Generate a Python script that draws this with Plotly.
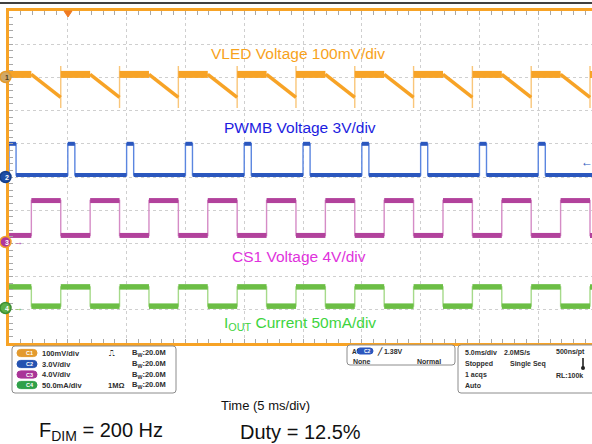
import plotly.graph_objects as go

W, H = 592, 444

# ---------------- data (time in ms, amplitude in scope divisions) ----------------
x_range_ms = [0.0, 49.57]
y_range_div = [0.0, 10.0]

pwmb_rise_ms = [0.0, 5.0, 10.0, 15.0, 20.0, 25.0, 30.0, 35.0, 40.0, 45.0]
pwmb_fall_ms = [0.6, 5.6, 10.6, 15.6, 20.6, 25.6, 30.6, 35.6, 40.6, 45.6]
pwmb_low_div, pwmb_high_div = 5.06, 6.0

cs1_rise_ms = [1.9, 6.9, 11.9, 16.9, 21.9, 26.9, 31.9, 36.9, 41.9, 46.9]
cs1_fall_ms = [4.4, 9.4, 14.4, 19.4, 24.4, 29.4, 34.4, 39.4, 44.4, 49.4]
cs1_low_div, cs1_high_div = 3.24, 4.29

iout_fall_ms = [1.9, 6.9, 11.9, 16.9, 21.9, 26.9, 31.9, 36.9, 41.9, 46.9]
iout_rise_ms = [4.4, 9.4, 14.4, 19.4, 24.4, 29.4, 34.4, 39.4, 44.4, 49.4]
iout_low_div, iout_high_div = 1.11, 1.69

vled_ramp_start_ms = [1.9, 6.9, 11.9, 16.9, 21.9, 26.9, 31.9, 36.9, 41.9, 46.9]
vled_jump_ms = [4.4, 9.4, 14.4, 19.4, 24.4, 29.4, 34.4, 39.4, 44.4, 49.4]
vled_flat_div = 8.09
vled_ramp_end_div = 7.40
vled_spike_low_div = 7.08
vled_spike_high_div = 8.34

# ---------------- colours ----------------
ORANGE = "#F7A326"
BLUE = "#2B57BE"
MAGENTA = "#B2429C"
GREEN = "#6CBE45"


def step_wave(t0, t1, ups, downs, lo, hi, start_high):
    events = sorted([(t, 1) for t in ups] + [(t, 0) for t in downs])
    level = hi if start_high else lo
    xs, ys = [t0], [level]
    flat_x, flat_y = [], []
    seg_start = t0
    for t, up in events:
        new = hi if up else lo
        flat_x += [seg_start, t, None]
        flat_y += [level, level, None]
        xs += [t, t]
        ys += [level, new]
        level = new
        seg_start = t
    flat_x += [seg_start, t1]
    flat_y += [level, level]
    xs.append(t1)
    ys.append(level)
    return xs, ys, flat_x, flat_y


fig = go.Figure()

# PWMB (blue)
bx, by, bfx, bfy = step_wave(x_range_ms[0], x_range_ms[1], pwmb_rise_ms, pwmb_fall_ms,
                             pwmb_low_div, pwmb_high_div, False)
fig.add_trace(go.Scatter(x=bx, y=by, mode="lines", line=dict(color="#5B86E0", width=1.4),
                         hoverinfo="skip", showlegend=False))
fig.add_trace(go.Scatter(x=bfx, y=bfy, mode="lines", line=dict(color=BLUE, width=4),
                         hoverinfo="skip", showlegend=False))

# CS1 (magenta)
mx, my, mfx, mfy = step_wave(x_range_ms[0], x_range_ms[1], cs1_rise_ms, cs1_fall_ms,
                             cs1_low_div, cs1_high_div, False)
fig.add_trace(go.Scatter(x=mx, y=my, mode="lines", line=dict(color="#D58CC6", width=1.4),
                         hoverinfo="skip", showlegend=False))
fig.add_trace(go.Scatter(x=mfx, y=mfy, mode="lines", line=dict(color=MAGENTA, width=5),
                         hoverinfo="skip", showlegend=False))

# IOUT (green)
gx, gy, gfx, gfy = step_wave(x_range_ms[0], x_range_ms[1], iout_rise_ms, iout_fall_ms,
                             iout_low_div, iout_high_div, True)
fig.add_trace(go.Scatter(x=gx, y=gy, mode="lines", line=dict(color="#A6DA8A", width=1.4),
                         hoverinfo="skip", showlegend=False))
fig.add_trace(go.Scatter(x=gfx, y=gfy, mode="lines", line=dict(color=GREEN, width=5.5),
                         hoverinfo="skip", showlegend=False))

# VLED (orange) sawtooth
ox, oy = [x_range_ms[0]], [vled_flat_div]
of_x, of_y = [x_range_ms[0]], [vled_flat_div]
or_x, or_y = [], []
for rs, jp in zip(vled_ramp_start_ms, vled_jump_ms):
    ox += [rs, jp, jp, jp, jp]
    oy += [vled_flat_div, vled_ramp_end_div, vled_spike_low_div, vled_spike_high_div, vled_flat_div]
    of_x += [rs, None, jp]
    of_y += [vled_flat_div, None, vled_flat_div]
    or_x += [rs, jp, None]
    or_y += [vled_flat_div, vled_ramp_end_div, None]
ox.append(x_range_ms[1]); oy.append(vled_flat_div)
of_x.append(x_range_ms[1]); of_y.append(vled_flat_div)
fig.add_trace(go.Scatter(x=ox, y=oy, mode="lines", line=dict(color="#F9C67A", width=1.4),
                         hoverinfo="skip", showlegend=False))
fig.add_trace(go.Scatter(x=or_x, y=or_y, mode="lines", line=dict(color=ORANGE, width=3.5),
                         hoverinfo="skip", showlegend=False))
fig.add_trace(go.Scatter(x=of_x, y=of_y, mode="lines", line=dict(color=ORANGE, width=7),
                         hoverinfo="skip", showlegend=False))


# ---------------- helpers for pixel placement of decorations ----------------
def px(x):
    return x / W


def py(y):
    return 1 - y / H


shapes = []
ann = []


def text(x, y, s, size=7, color="#2e2e2e", xanchor="left", bold=True, family="Liberation Sans"):
    ann.append(dict(x=px(x), y=py(y), xref="paper", yref="paper", text=(f"<b>{s}</b>" if bold else s),
                    showarrow=False, xanchor=xanchor, yanchor="middle",
                    font=dict(size=size, color=color, family=family)))


def label(x, y, s, size, color, xanchor="center"):
    ann.append(dict(x=px(x), y=py(y), xref="paper", yref="paper", text=s, showarrow=False,
                    xanchor=xanchor, yanchor="middle",
                    font=dict(size=size, color=color, family="Liberation Sans")))


def rrect(x0, y0, x1, y1, r, line="#8c8c8c", fill="white", lw=1):
    path = (f"M {px(x0 + r)},{py(y0)} L {px(x1 - r)},{py(y0)} Q {px(x1)},{py(y0)} {px(x1)},{py(y0 + r)} "
            f"L {px(x1)},{py(y1 - r)} Q {px(x1)},{py(y1)} {px(x1 - r)},{py(y1)} "
            f"L {px(x0 + r)},{py(y1)} Q {px(x0)},{py(y1)} {px(x0)},{py(y1 - r)} "
            f"L {px(x0)},{py(y0 + r)} Q {px(x0)},{py(y0)} {px(x0 + r)},{py(y0)} Z")
    shapes.append(dict(type="path", path=path, xref="paper", yref="paper",
                       line=dict(color=line, width=lw), fillcolor=fill, layer="above"))


# black line at top
shapes.append(dict(type="line", xref="paper", yref="paper", x0=0, x1=1, y0=py(3), y1=py(3),
                   line=dict(color="black", width=1.5)))

# trigger position marker
shapes.append(dict(type="path", xref="paper", yref="paper",
                   path=f"M {px(64)},{py(11)} L {px(72)},{py(11)} L {px(68)},{py(17)} Z",
                   fillcolor="#F07A22", line=dict(color="#F07A22", width=1), layer="above"))

# channel markers on left
markers = [(77, "1", "#CFA868", "#E49A2A", "#4a3a20"),
           (177, "2", "#1F4FA6", "#173F88", "white"),
           (242, "3", "#B0359A", "#F2A030", "white"),
           (308, "4", "#5DB04A", "#3F8F33", "white")]
for y, lab, fill, ring, tc in markers:
    shapes.append(dict(type="circle", xref="paper", yref="paper",
                       x0=px(0), x1=px(11), y0=py(y - 5.5), y1=py(y + 5.5),
                       fillcolor=fill, line=dict(color=ring, width=1.5), layer="above"))
    text(3.3, y, lab, size=7, color=tc)
text(12, 242, "→", size=9, color=MAGENTA, bold=False)
text(12, 308, "→", size=9, color=GREEN, bold=False)
# trigger level arrow (right)
text(579, 162, "←", size=12, color=BLUE, bold=False)

# trace labels
label(298, 54, "VLED Voltage 100mV/div", 15.5, "#F7A21C")
label(300, 127, "PWMB Voltage 3V/div", 15.5, "#1C1CE0")
label(299, 256.5, "CS1 Voltage 4V/div", 15.5, "#E032DC")
label(300, 323, "I<sub>OUT</sub> Current 50mA/div", 15.5, "#3ED43E")

# ---------------- status panels ----------------
rrect(12, 346, 176, 393, 3)
rrect(347, 345, 455, 365, 3)
rrect(458, 345, 610, 393, 3)

rows = [353, 364, 374.5, 385]
pill_cols = [("C1", "#E39A2E"), ("C2", "#2452B0"), ("C3", "#A93497"), ("C4", "#2FA049")]
scales = ["100mV/div", "3.0V/div", "4.0V/div", "50.0mA/div"]
for y, (cl, col), sc in zip(rows, pill_cols, scales):
    rrect(17, y - 3.6, 37, y + 3.6, 3.6, line=col, fill=col)
    text(23.5, y, cl, size=5.5, color="white")
    text(40, y, sc, size=7.5)
    text(130, y, "B<sub>W</sub>:20.0M", size=7.5)
text(107, 353, "⎍", size=7.5, bold=False)
text(106, 385, "1MΩ", size=7.5)

# middle box
text(350, 351, "A'", size=6.5)
rrect(357, 348, 373, 354, 3, line=BLUE, fill=BLUE)
text(361.5, 351, "C2", size=5, color="white")
text(375, 351, "╱ 1.38V", size=7)
text(351, 361, "None", size=7)
text(443, 361, "Normal", size=7, xanchor="right")

# right box
text(463, 352, "5.0ms/div", size=7)
text(502, 352, "2.0MS/s", size=7)
text(587, 352, "500ns/pt", size=7, xanchor="right")
text(463, 363.5, "Stopped", size=7)
text(508, 363.5, "Single Seq", size=7)
text(463, 375, "1 acqs", size=7)
text(585, 375, "RL:100k", size=7, xanchor="right")
text(463, 385.5, "Auto", size=7)
# thermometer icon
shapes.append(dict(type="rect", xref="paper", yref="paper", x0=px(582.2), x1=px(583.8),
                   y0=py(367), y1=py(358), fillcolor="#222", line=dict(width=0), layer="above"))
shapes.append(dict(type="circle", xref="paper", yref="paper", x0=px(581), x1=px(585),
                   y0=py(370), y1=py(366), fillcolor="#222", line=dict(width=0), layer="above"))

# captions
label(265, 405, "Time (5 ms/div)", 13, "#111")
label(37, 431, "F<sub>DIM</sub> = 200 Hz", 20, "#111", xanchor="left")
label(238, 432, "Duty = 12.5%", 20, "#111", xanchor="left")

fig.update_layout(
    width=W, height=H, autosize=False,
    margin=dict(l=0, r=0, t=0, b=0),
    paper_bgcolor="white", plot_bgcolor="white",
    showlegend=False,
    shapes=shapes, annotations=ann,
    xaxis=dict(domain=[9 / W, 1], range=x_range_ms, showticklabels=False,
               showgrid=True, gridcolor="#cfcfcf", griddash="dot", gridwidth=1, dtick=5, tick0=0,
               ticks="inside", ticklen=4, tickcolor="#a8a8a8",
               minor=dict(dtick=1, ticks="inside", ticklen=4, tickcolor="#a8a8a8", showgrid=False),
               showline=True, linecolor=ORANGE, linewidth=2.5, mirror="ticks", zeroline=False),
    yaxis=dict(domain=[1 - 343 / H, 1 - 11 / H], range=y_range_div, showticklabels=False,
               showgrid=True, gridcolor="#cfcfcf", griddash="dot", gridwidth=1, dtick=1, tick0=0,
               ticks="inside", ticklen=4, tickcolor="#a8a8a8",
               minor=dict(dtick=0.2, ticks="inside", ticklen=4, tickcolor="#a8a8a8", showgrid=False),
               showline=True, linecolor=ORANGE, linewidth=2.5, mirror=False, zeroline=False),
)

fig.write_html(
    "out.html",
    config={"displayModeBar": False},
    post_script="document.body.style.margin='0';document.documentElement.style.overflow='hidden';",
)
